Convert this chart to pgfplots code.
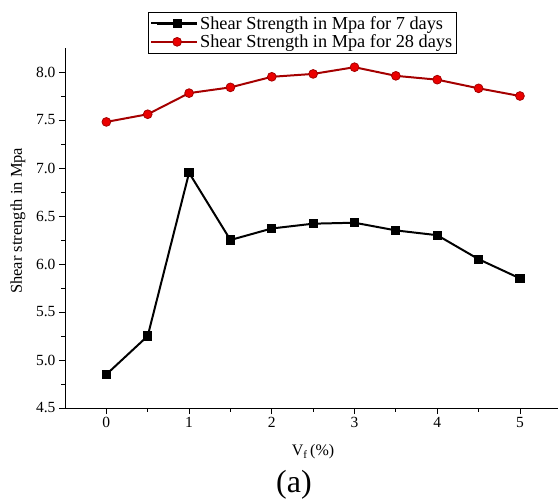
\documentclass[border=0pt]{standalone}
\usepackage{fontspec}
\setmainfont{Liberation Serif}
\usepackage{pgfplots}
\pgfplotsset{compat=1.18}
\definecolor{lineRed}{RGB}{165,0,0}
\definecolor{markRed}{RGB}{235,0,0}

\begin{document}
\begin{tikzpicture}
% fixed page frame around the axis box (493bp x 360bp)
\path[use as bounding box] (-65bp,-93bp) rectangle (493bp,408bp);
\begin{axis}[
  at={(0,0)}, anchor=south west,
  scale only axis, width=493bp, height=360bp,
  xmin=-0.5, xmax=5.46, ymin=4.5, ymax=8.25,
  axis lines=left, axis line style={-, line width=1pt},
  xtick={0,1,2,3,4,5}, ytick={4.5,5.0,5.5,6.0,6.5,7.0,7.5,8.0},
  minor x tick num=1, minor y tick num=1,
  tick align=outside,
  major tick length=6bp, minor tick length=3.5bp,
  every tick/.style={line width=0.9pt, black},
  yticklabel style={/pgf/number format/.cd, fixed, fixed zerofill, precision=1},
  /pgf/number format/assume math mode=true,
  tick label style={font=\fontsize{15.5bp}{18bp}\selectfont},
  legend style={at={(axis description cs:0.168,1.1)}, anchor=north west,
    draw=black, line width=0.6pt, font=\fontsize{18.3bp}{21bp}\selectfont,
    cells={anchor=west}, inner sep=2bp, row sep=0bp},
  legend image code/.code={
    \path (0bp,0bp) -- (6bp,0bp);
    \draw[#1, line width=2.1pt] (6bp,0bp) -- (46bp,0bp);
    \draw[#1, only marks] plot coordinates {(26bp,0bp)};
  },
  clip=false,
]
\addplot[black, line width=2pt, mark=square*, mark size=3.6pt,
  mark options={solid, fill=black}]
  coordinates {(0,4.85) (0.5,5.25) (1,6.95) (1.5,6.25) (2,6.37) (2.5,6.42)
               (3,6.43) (3.5,6.35) (4,6.30) (4.5,6.05) (5,5.85)};
\addlegendentry{Shear Strength in Mpa for 7 days}
\addplot[lineRed, line width=2pt, mark=*, mark size=4.4pt,
  mark options={solid, fill=markRed, draw=lineRed, line width=0.8pt}]
  coordinates {(0,7.48) (0.5,7.56) (1,7.78) (1.5,7.84) (2,7.95) (2.5,7.98)
               (3,8.05) (3.5,7.96) (4,7.92) (4.5,7.83) (5,7.75)};
\addlegendentry{Shear Strength in Mpa for 28 days}
% axis titles
\node[rotate=90, anchor=center, font=\fontsize{16.5bp}{19bp}\selectfont]
  at (axis description cs:-0.0953,0.52) {Shear strength in Mpa};
\node[anchor=center, font=\fontsize{16bp}{19bp}\selectfont]
  at (axis description cs:0.503,-0.122) {V\textsubscript{f}\,(\%)};
\node[anchor=center, font=\fontsize{32bp}{36bp}\selectfont]
  at (axis description cs:0.4645,-0.214) {(a)};
\end{axis}
\end{tikzpicture}
\end{document}
